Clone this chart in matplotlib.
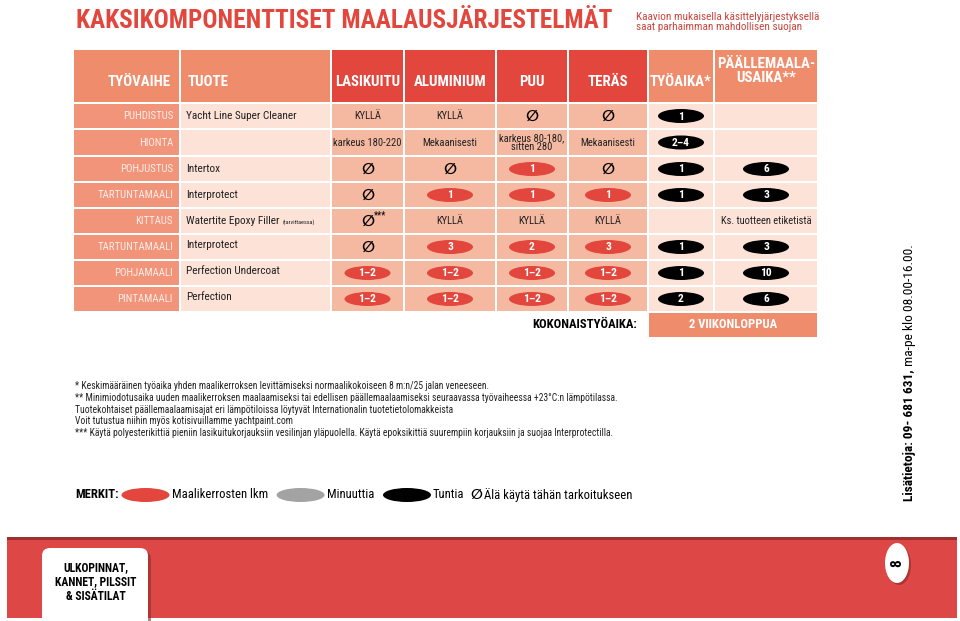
import matplotlib
matplotlib.use("Agg")
import matplotlib.pyplot as plt
import matplotlib.font_manager as fm
from matplotlib.patches import Rectangle, Ellipse, FancyBboxPatch

# --- data -------------------------------------------------------------
title = "KAKSIKOMPONENTTISET MAALAUSJÄRJESTELMÄT"
subtitle = "Kaavion mukaisella käsittelyjärjestyksellä\nsaat parhaimman mahdollisen suojan"
headers = ["TYÖVAIHE", "TUOTE", "LASIKUITU", "ALUMINIUM", "PUU", "TERÄS",
           "TYÖAIKA*", "PÄÄLLEMAALA-\nUSAIKA**"]
stages = ["PUHDISTUS", "HIONTA", "POHJUSTUS", "TARTUNTAMAALI", "KITTAUS",
          "TARTUNTAMAALI", "POHJAMAALI", "PINTAMAALI"]
products = ["Yacht Line Super Cleaner", "", "Intertox", "Interprotect",
            "Watertite Epoxy Filler", "Interprotect", "Perfection Undercoat", "Perfection"]
product_notes = ["", "", "", "", "(tarvittaessa)", "", "", ""]
lasikuitu = ["KYLLÄ", "karkeus 180-220", "Ø", "Ø", "Ø***", "Ø", "1–2", "1–2"]
aluminium = ["KYLLÄ", "Mekaanisesti", "Ø", "1", "KYLLÄ", "3", "1–2", "1–2"]
puu = ["Ø", "karkeus 80-180,\nsitten 280", "1", "1", "KYLLÄ", "2", "1–2", "1–2"]
teras = ["Ø", "Mekaanisesti", "Ø", "1", "KYLLÄ", "3", "1–2", "1–2"]
tyoaika = ["1", "2–4", "1", "1", "", "1", "1", "2"]
paallemaalausaika = ["", "", "6", "3", "Ks. tuotteen etiketistä", "3", "10", "6"]
total_label = "KOKONAISTYÖAIKA:"
total_value = "2 VIIKONLOPPUA"

footnotes = [
    "* Keskimääräinen työaika yhden maalikerroksen levittämiseksi normaalikokoiseen 8 m:n/25 jalan veneeseen.",
    "** Minimiodotusaika uuden maalikerroksen maalaamiseksi tai edellisen päällemaalaamiseksi seuraavassa työvaiheessa +23°C:n lämpötilassa.",
    "Tuotekohtaiset päällemaalaamisajat eri lämpötiloissa löytyvät Internationalin tuotetietolomakkeista",
    "Voit tutustua niihin myös kotisivuillamme yachtpaint.com",
    "*** Käytä polyesterikittiä pieniin lasikuitukorjauksiin vesilinjan yläpuolella. Käytä epoksikittiä suurempiin korjauksiin ja suojaa Interprotectilla.",
]
legend_labels = ["Maalikerrosten lkm", "Minuuttia", "Tuntia"]
legend_no_use = "Älä käytä tähän tarkoitukseen"
contact_bold = "Lisätietoja: 09- 681 631,"
contact_rest = " ma-pe klo 08.00-16.00."
tab_text = "ULKOPINNAT,\nKANNET, PILSSIT\n& SISÄTILAT"
page_no = "8"


# --- font: narrowest available sans ------------------------------------
def pick_font():
    fonts = fm.fontManager.ttflist
    names = {f.name for f in fonts}
    for n in ['Liberation Sans Narrow', 'Arial Narrow', 'Roboto Condensed',
              'Open Sans Condensed', 'DejaVu Sans Condensed', 'Noto Sans Condensed',
              'Nimbus Sans Narrow']:
        if n in names:
            return n, 'normal'
    for f in fonts:
        st = str(f.stretch)
        if st in ('condensed', 'extra-condensed', '300', '200') and \
                f.name in ('Noto Sans', 'Roboto', 'Open Sans', 'DejaVu Sans', 'Liberation Sans'):
            return f.name, 'condensed'
    return 'Roboto', 'normal'


FONT, STRETCH = pick_font()
plt.rcParams['font.family'] = [FONT, 'DejaVu Sans']
plt.rcParams['font.stretch'] = STRETCH

# --- layout / style ---------------------------------------------------
col_edges = [73, 180, 331, 404, 496, 568, 648, 714, 818]
row_edges = [103, 129, 156, 182, 208, 234, 260, 286, 312]
head_top = 49

RED = "#e2463c"
SALMON = "#ef8c6c"
STAGE = "#f1947a"
LIGHT = "#fce2d7"
MID = "#f5b9a1"
GAP = 1.0

fig = plt.figure(figsize=(9.6, 6.21), dpi=100)
ax = fig.add_axes([0, 0, 1, 1])
ax.set_xlim(0, 960)
ax.set_ylim(621, 0)
ax.axis("off")
renderer = fig.canvas.get_renderer()


def width_at10(text, weight="normal"):
    t = ax.text(0, 0, text, fontsize=10, fontweight=weight)
    w = t.get_window_extent(renderer).width
    t.remove()
    return w


def size_for(text, width, weight="normal", cap=None):
    s = 10 * width / width_at10(text, weight)
    return min(s, cap) if cap else s


def box(x0, y0, x1, y1, color):
    ax.add_patch(Rectangle((x0 + GAP, y0 + GAP), x1 - x0 - 2 * GAP, y1 - y0 - 2 * GAP,
                           facecolor=color, edgecolor="none"))


def nouse(x, y, size=11):
    ax.text(x, y, "∅", family="DejaVu Sans", fontweight="bold", fontsize=size,
            ha="center", va="center", color="black")


S_HEAD = size_for("LASIKUITU", 65, "bold", cap=11.5)
S_CELL = size_for("karkeus 180-220", 68, cap=9)
S_PROD = size_for("Yacht Line Super Cleaner", 110, cap=9)
S_STAGE = size_for("TARTUNTAMAALI", 76, cap=9)
S_PILL = size_for("1–2", 18, "bold", cap=9)
S_NOTE = size_for(footnotes[1], 536, cap=8)
S_LEG = size_for(legend_labels[0], 95, cap=10)
S_TOT = size_for(total_label, 105, "bold", cap=11)


def pill(x, y, label, color, w=46, h=14):
    ax.add_patch(Ellipse((x, y), w, h, facecolor=color, edgecolor="none"))
    if label:
        ax.text(x, y + 0.5, label, color="white", fontweight="bold", fontsize=S_PILL,
                ha="center", va="center")


def cell(ci, ri, value, pill_color):
    if not value:
        return
    cx = (col_edges[ci] + col_edges[ci + 1]) / 2
    cy = (row_edges[ri] + row_edges[ri + 1]) / 2
    if value.startswith("Ø"):
        nouse(cx, cy)
        if value.endswith("***"):
            ax.text(cx + 6, cy - 6, "***", fontsize=7, ha="left", va="center")
    elif value[0].isdigit():
        pill(cx, cy, value, pill_color)
    else:
        ax.text(cx, cy, value, fontsize=S_CELL, ha="center", va="center",
                linespacing=0.9, color="#222222")


# title
ax.text(76, 21, title, color=RED, fontsize=size_for(title, 534, "bold"),
        fontweight="bold", ha="left", va="center")
ax.text(636, 22, subtitle, color="#c8463e", fontsize=size_for(subtitle.split("\n")[0], 184),
        ha="left", va="center", linespacing=1.1)

# header
head_colors = [SALMON, SALMON, RED, RED, RED, RED, SALMON, SALMON]
for i, (h, c) in enumerate(zip(headers, head_colors)):
    box(col_edges[i], head_top, col_edges[i + 1], row_edges[0], c)
    cx = (col_edges[i] + col_edges[i + 1]) / 2
    cy = 82
    kw = dict(color="white", fontweight="bold", fontsize=S_HEAD, va="center")
    if i == 0:
        ax.text(col_edges[1] - 9, cy, h, ha="right", **kw)
    elif i == 1:
        ax.text(col_edges[1] + 8, cy, h, ha="left", **kw)
    elif i == 7:
        ax.text(cx, 71, h, ha="center", linespacing=1.0, **kw)
    else:
        ax.text(cx, cy, h, ha="center", **kw)

# body
material_cols = [lasikuitu, aluminium, puu, teras]
for r in range(len(stages)):
    y0, y1 = row_edges[r], row_edges[r + 1]
    cy = (y0 + y1) / 2
    box(col_edges[0], y0, col_edges[1], y1, STAGE)
    box(col_edges[1], y0, col_edges[2], y1, LIGHT)
    for m in range(4):
        box(col_edges[2 + m], y0, col_edges[3 + m], y1, MID)
    box(col_edges[6], y0, col_edges[7], y1, LIGHT)
    box(col_edges[7], y0, col_edges[8], y1, LIGHT)

    ax.text(col_edges[1] - 7, cy, stages[r], color="#fdeee8", fontsize=S_STAGE,
            ha="right", va="center")
    ty = cy - 2 if r >= 5 else cy
    t = ax.text(col_edges[1] + 6, ty, products[r], color="#222222", fontsize=S_PROD,
                ha="left", va="center")
    if product_notes[r]:
        bb = t.get_window_extent(renderer).transformed(ax.transData.inverted())
        ax.text(bb.x1 + 3, ty + 1, product_notes[r], fontsize=S_PROD * 0.55, ha="left",
                va="center", color="#222222")
    for m, vals in enumerate(material_cols):
        cell(2 + m, r, vals[r], RED)
    cell(6, r, tyoaika[r], "black")
    cell(7, r, paallemaalausaika[r], "black")

# total
box(col_edges[6], row_edges[-1], col_edges[8], row_edges[-1] + 26, SALMON)
ax.text((col_edges[6] + col_edges[8]) / 2, row_edges[-1] + 13, total_value,
        color="white", fontweight="bold", fontsize=S_TOT, ha="center", va="center")
ax.text(col_edges[6] - 11, row_edges[-1] + 13, total_label, color="black",
        fontweight="bold", fontsize=S_TOT, ha="right", va="center")

# footnotes
for i, line in enumerate(footnotes):
    ax.text(75, 386 + i * 11.8, line, fontsize=S_NOTE, ha="left", va="center",
            color="#222222")

# legend
ly = 495
t = ax.text(75, ly, "MERKIT:", fontweight="bold", fontsize=S_LEG, ha="left", va="center")
bb = t.get_window_extent(renderer).transformed(ax.transData.inverted())
legend_colors = [RED, "#a3a3a3", "black"]
lx = bb.x1 + 27
for lab, col in zip(legend_labels, legend_colors):
    ax.add_patch(Ellipse((lx, ly), 48, 14, facecolor=col, edgecolor="none"))
    t = ax.text(lx + 26, ly, lab, fontsize=S_LEG, ha="left", va="center")
    bb = t.get_window_extent(renderer).transformed(ax.transData.inverted())
    lx = bb.x1 + 33
nouse(bb.x1 + 12, ly, size=10)
ax.text(bb.x1 + 20, ly, legend_no_use, fontsize=S_LEG, ha="left", va="center")

# contact info (vertical), whole line spans ~255 px
w10 = width_at10(contact_bold, "bold") + width_at10(contact_rest)
S_CON = min(10 * 255 / w10, 14)
t = ax.text(909, 501, contact_bold, rotation=90, fontweight="bold", fontsize=S_CON,
            ha="center", va="bottom")
bb = t.get_window_extent(renderer).transformed(ax.transData.inverted())
ax.text(909, bb.y1, contact_rest, rotation=90, fontsize=S_CON, ha="center", va="bottom")

# footer band
ax.add_patch(Rectangle((7, 538), 950, 80, facecolor="#dd4846", edgecolor="none"))
ax.add_patch(Rectangle((7, 537), 950, 2.5, facecolor="#9e2f2c", edgecolor="none"))
ax.add_patch(FancyBboxPatch((45, 551), 106, 80, boxstyle="round,pad=0,rounding_size=8",
                            facecolor="#8e2a28", edgecolor="none", alpha=0.6))
ax.add_patch(FancyBboxPatch((42, 548), 106, 80, boxstyle="round,pad=0,rounding_size=8",
                            facecolor="white", edgecolor="none"))
ax.text(96, 582, tab_text, fontweight="bold", fontsize=size_for("KANNET, PILSSIT", 82, "bold"),
        ha="center", va="center", linespacing=1.1)
ax.add_patch(Ellipse((899, 565), 24, 40, facecolor="#8e2a28", edgecolor="none", alpha=0.6))
ax.add_patch(Ellipse((897, 563), 24, 40, facecolor="white", edgecolor="none"))
ax.text(897, 563, page_no, rotation=90, fontweight="bold", fontsize=11, ha="center",
        va="center")

fig.savefig("out.png", dpi=100)
